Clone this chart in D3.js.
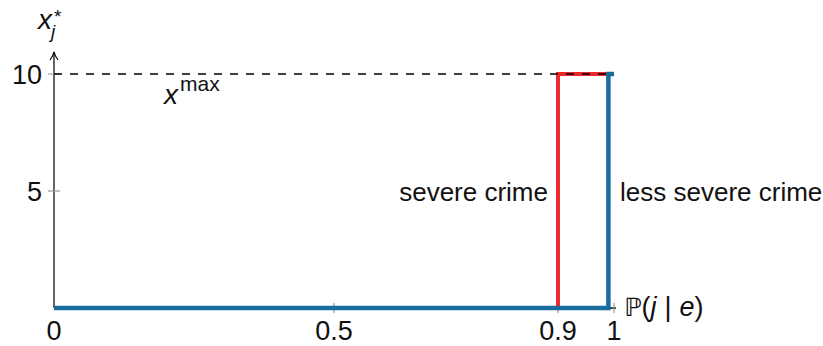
<!DOCTYPE html>
<html><head><meta charset="utf-8">
<script src="https://cdn.jsdelivr.net/npm/d3@7"></script>
<style>body{margin:0;background:#fff}svg{display:block}text{font-family:"Liberation Sans",Arial,sans-serif;fill:#111}</style>
</head><body>
<script>
// data
const xTicks = [0, 0.5, 0.9, 1];
const xTickLabels = ["0", "0.5", "0.9", "1"];
const yTicks = [5, 10];
const yTickLabels = ["5", "10"];
const xMaxValue = 10;
const lessSevereX = [0, 0.99, 0.99, 1];
const lessSevereY = [0, 0, 10, 10];
const severeX = [0.9, 0.9, 1];
const severeY = [0, 10, 10];
const seriesLabels = ["severe crime", "less severe crime"];

const W = 823, H = 346;
const svg = d3.select("body").append("svg").attr("width", W).attr("height", H);
const x = d3.scaleLinear().domain([0, 1]).range([54, 614]);
const y = d3.scaleLinear().domain([0, 10]).range([308, 74]);
const blue = "#176d9c", red = "#ee2a30";
const fs = 26;

// y axis with arrow
svg.append("defs").append("marker").attr("id","arr").attr("viewBox","0 0 10 10")
  .attr("refX",9).attr("refY",5).attr("markerWidth",10).attr("markerHeight",10)
  .attr("markerUnits","userSpaceOnUse").attr("orient","auto")
  .append("path").attr("d","M1,1 Q5,4 9,5 Q5,6 1,9").attr("fill","none").attr("stroke","#111").attr("stroke-width",1.2);
svg.append("line").attr("x1",x(0)).attr("x2",x(0)).attr("y1",y(0)).attr("y2",52)
  .attr("stroke","#111").attr("stroke-width",1.3).attr("marker-end","url(#arr)");
// x axis line
svg.append("line").attr("x1",x(0)).attr("x2",x(1)+2).attr("y1",y(0)).attr("y2",y(0))
  .attr("stroke","#111").attr("stroke-width",1.3);

// ticks
svg.selectAll(".yt").data(yTicks).join("line").attr("x1",x(0)-6).attr("x2",x(0)+6)
  .attr("y1",d=>y(d)).attr("y2",d=>y(d)).attr("stroke","#999").attr("stroke-width",1.2);
svg.selectAll(".xt").data(xTicks.slice(1)).join("line").attr("y1",y(0)-5).attr("y2",y(0)+5)
  .attr("x1",d=>x(d)).attr("x2",d=>x(d)).attr("stroke","#999").attr("stroke-width",1.2);

// tick labels
svg.selectAll(".xl").data(xTicks).join("text").attr("x",d=>x(d)).attr("y",340)
  .attr("text-anchor","middle").attr("font-size",fs+1).text((d,i)=>xTickLabels[i]);
svg.selectAll(".yl").data(yTicks).join("text").attr("x",42).attr("y",d=>y(d)+10)
  .attr("text-anchor","end").attr("font-size",fs+1).text((d,i)=>yTickLabels[i]);

const line = d3.line().x(d=>x(d[0])).y(d=>y(d[1]));
// red series
svg.append("path").datum(severeX.map((v,i)=>[v,severeY[i]])).attr("d",line)
  .attr("fill","none").attr("stroke",red).attr("stroke-width",4).attr("stroke-linejoin","miter");
// blue series
svg.append("path").datum(lessSevereX.map((v,i)=>[v,lessSevereY[i]])).attr("d",line)
  .attr("fill","none").attr("stroke",blue).attr("stroke-width",4.5).attr("stroke-linejoin","miter");

// dashed xmax line
svg.append("line").attr("x1",x(0)).attr("x2",x(1)).attr("y1",y(xMaxValue)).attr("y2",y(xMaxValue))
  .attr("stroke","#000").attr("stroke-width",1.3).attr("stroke-dasharray","8,8");

// labels
const t1 = svg.append("text").attr("x",164).attr("y",104).attr("font-size",fs+2);
t1.append("tspan").attr("font-style","italic").text("x");
t1.append("tspan").attr("dx",2).attr("dy",-13).attr("font-size",21).text("max");

svg.append("text").attr("x",548).attr("y",201).attr("text-anchor","end").attr("font-size",fs).text(seriesLabels[0]);
svg.append("text").attr("x",620).attr("y",201).attr("font-size",fs).text(seriesLabels[1]);

// y axis label
const ty = svg.append("g");
ty.append("text").attr("x",38).attr("y",29).attr("font-size",fs+2).attr("font-style","italic").text("x");
ty.append("text").attr("x",51).attr("y",38).attr("font-size",19).attr("font-style","italic").text("j");
ty.append("text").attr("x",54).attr("y",23).attr("font-size",19).text("*");

// x axis label
const tx = svg.append("text").attr("x",624).attr("y",316).attr("font-size",fs+1);
tx.append("tspan").attr("font-family","DejaVu Sans").attr("font-size",25).text("ℙ");
tx.append("tspan").text("(");
tx.append("tspan").attr("font-style","italic").text("j");
tx.append("tspan").attr("dx",8).text("|");
tx.append("tspan").attr("dx",8).attr("font-style","italic").text("e");
tx.append("tspan").text(")");
</script>
</body></html>
